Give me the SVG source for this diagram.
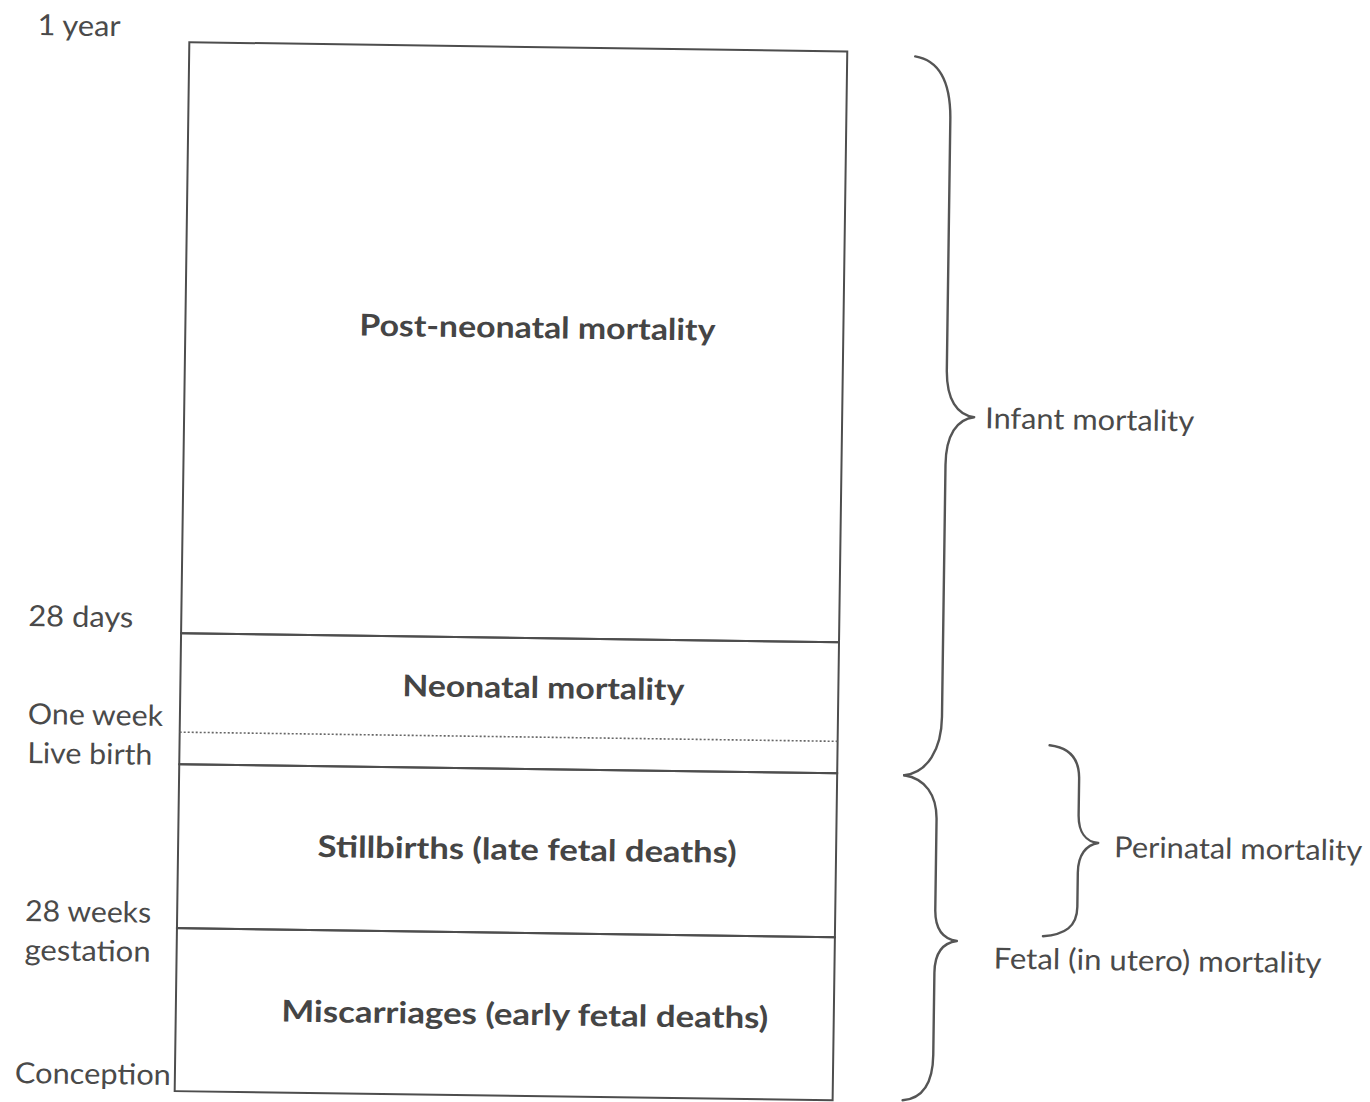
<svg xmlns="http://www.w3.org/2000/svg" width="1370" height="1102" viewBox="0 0 1370 1102">
<style>
.band{fill:none;stroke:#4d4d4d;stroke-width:2}
.dot{fill:none;stroke:#666;stroke-width:1.6;stroke-dasharray:2 2}
.brace{fill:none;stroke:#555;stroke-width:2.4;stroke-linecap:round;stroke-linejoin:round}
.lab{font-family:Lato,"Open Sans","Liberation Sans",sans-serif;font-size:29px;fill:#4a4a4a}
.bold{font-family:Lato,"Open Sans","Liberation Sans",sans-serif;font-size:30px;font-weight:bold;fill:#454545;text-anchor:middle}
</style>
<rect width="1370" height="1102" fill="#ffffff"/>
<g transform="rotate(0.8 600 570)">
  <g id="post-neonatal">
    <rect class="band" x="182" y="48" width="658" height="591"/>
    <text class="bold" x="534" y="339" textLength="356" lengthAdjust="spacingAndGlyphs">Post-neonatal mortality</text>
  </g>
  <g id="neonatal">
    <rect class="band" x="182" y="639" width="658" height="131"/>
    <line class="dot" x1="182" y1="738" x2="840" y2="738"/>
    <text class="bold" x="545" y="699" textLength="282" lengthAdjust="spacingAndGlyphs">Neonatal mortality</text>
  </g>
  <g id="stillbirths">
    <rect class="band" x="182" y="770" width="658" height="164"/>
    <text class="bold" x="531" y="861" textLength="419" lengthAdjust="spacingAndGlyphs">Stillbirths (late fetal deaths)</text>
  </g>
  <g id="miscarriages">
    <rect class="band" x="182" y="934" width="658" height="163"/>
    <text class="bold" x="531" y="1026" textLength="487" lengthAdjust="spacingAndGlyphs">Miscarriages (early fetal deaths)</text>
  </g>
  <g id="time-labels">
    <text class="lab" x="30" y="43" textLength="83" lengthAdjust="spacingAndGlyphs">1 year</text>
    <text class="lab" x="29" y="634" textLength="105" lengthAdjust="spacingAndGlyphs">28 days</text>
    <text class="lab" x="30" y="732" textLength="135" lengthAdjust="spacingAndGlyphs">One week</text>
    <text class="lab" x="30" y="771" textLength="125" lengthAdjust="spacingAndGlyphs">Live birth</text>
    <text class="lab" x="30" y="929" textLength="126" lengthAdjust="spacingAndGlyphs">28 weeks</text>
    <text class="lab" x="30" y="968" textLength="126" lengthAdjust="spacingAndGlyphs">gestation</text>
    <text class="lab" x="22" y="1091" textLength="156" lengthAdjust="spacingAndGlyphs">Conception</text>
  </g>
  <g id="connectors">
    <path id="brace-infant" class="brace" d="M908,52 C934,56 944,80 944,115 L944,365 C944,395 955,410 972,412 C955,414 944,430 944,460 L944,712 C944,745 930,768 907,771"/>
    <path id="brace-fetal" class="brace" d="M907,771 C928,774 940,790 940,815 L940,905 C940,925 948,934 962,936 C948,938 940,948 940,968 L940,1050 C940,1078 930,1094 910,1096"/>
    <path id="brace-perinatal" class="brace" d="M1052,739 C1072,741 1082,752 1082,772 L1082,808 C1082,826 1090,835 1102,836 C1090,838 1082,848 1082,866 L1082,900 C1082,920 1070,928 1048,930"/>
  </g>
  <g id="brace-labels">
    <text id="infant" class="lab" x="983" y="423" textLength="209" lengthAdjust="spacingAndGlyphs">Infant mortality</text>
    <text id="perinatal" class="lab" x="1118" y="850" textLength="248" lengthAdjust="spacingAndGlyphs">Perinatal mortality</text>
    <text id="fetal" class="lab" x="999" y="963" textLength="328" lengthAdjust="spacingAndGlyphs">Fetal (in utero) mortality</text>
  </g>
</g>
</svg>
